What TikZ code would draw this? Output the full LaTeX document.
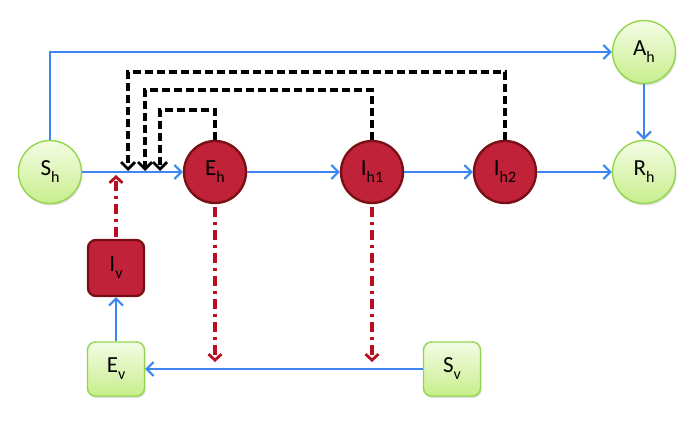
\documentclass[tikz,border=0pt]{standalone}
\usepackage{fontspec}
\setmainfont{Carlito}
\usetikzlibrary{arrows.meta,shadows}
\definecolor{bl}{HTML}{3D85F0}
\definecolor{rf}{HTML}{C0223A}
\definecolor{rd}{HTML}{7A1015}
\definecolor{ra}{HTML}{B81020}
\definecolor{gtop}{HTML}{F3FCE4}
\definecolor{gbot}{HTML}{C8EE8C}
\definecolor{gd}{HTML}{93D64C}
\newcommand\lab[2]{#1\raisebox{-7pt}{\fontsize{16}{16}\selectfont #2}}
\begin{document}
\begin{tikzpicture}[x=1pt,y=-1pt,
  lbl/.style={inner sep=0pt, font=\fontsize{23}{26}\selectfont, text=black},
  hg/.style={lbl, circle, draw=gd, line width=1.4pt, top color=gtop, bottom color=gbot, minimum size=63pt,
    drop shadow={opacity=0.25, shadow xshift=1pt, shadow yshift=-2pt}},
  hr/.style={lbl, circle, draw=rd, line width=2.4pt, fill=rf, minimum size=62pt},
  vg/.style={lbl, rectangle, rounded corners=8pt, draw=gd, line width=1.4pt, top color=gtop, bottom color=gbot,
    minimum width=57pt, minimum height=54pt, drop shadow={opacity=0.25, shadow xshift=1pt, shadow yshift=-2pt}},
  vr/.style={lbl, rectangle, rounded corners=8pt, draw=rd, line width=2.4pt, fill=rf, minimum width=56pt, minimum height=56pt},
  flow/.style={draw=bl, line width=2pt, -{Straight Barb[length=7pt,width=14pt,line width=2pt]}},
  fb/.style={draw=black, line width=3.2pt, dash pattern=on 8pt off 4pt, -{Straight Barb[length=7pt,width=14pt,line width=2.8pt]}},
  inf/.style={draw=ra, line width=3.2pt, dash pattern=on 10pt off 5pt on 3pt off 5pt, -{Straight Barb[length=6pt,width=13pt,line width=2.8pt]}}
]
\useasboundingbox (0,0) rectangle (692,422);

\node[hg] (sh) at (50,172) {\lab{S}{h}};
\node[hr] (eh) at (215,172) {\lab{E}{h}};
\node[hr] (ih1) at (372,172) {\lab{I}{h1}};
\node[hr] (ih2) at (505,172) {\lab{I}{h2}};
\node[hg] (rh) at (644,172) {\lab{R}{h}};
\node[hg] (ah) at (644,52) {\lab{A}{h}};
\node[vr] (iv) at (116,268) {\lab{I}{v}};
\node[vg] (ev) at (116,369) {\lab{E}{v}};
\node[vg] (sv) at (452,369) {\lab{S}{v}};

% blue flows
\draw[flow] (sh) -- (eh);
\draw[flow] (eh) -- (ih1);
\draw[flow] (ih1) -- (ih2);
\draw[flow] (ih2) -- (rh);
\draw[flow] (ah) -- (rh);
\draw[flow] (sh.north) |- (ah.west);
\draw[flow] (ev.north) -- (iv.south);
\draw[flow] (sv.west) -- (ev.east);

% black dashed feedback
\coordinate (f1) at (160,110);
\coordinate (t1) at (160,171);
\coordinate (f2) at (145,90);
\coordinate (t2) at (145,171);
\coordinate (f3) at (128,72);
\coordinate (t3) at (128,171);
\draw[fb] (eh.north) |- (f1) -- (t1);
\draw[fb] (ih1.north) |- (f2) -- (t2);
\draw[fb] (ih2.north) |- (f3) -- (t3);

% red infection
\coordinate (ivt) at (116,175);
\coordinate (ehb) at (215,362);
\coordinate (ihb) at (372,362);
\draw[inf, shorten <=2pt] (iv.north) -- (ivt);
\draw[inf, shorten <=3pt] (eh.south) -- (ehb);
\draw[inf, shorten <=3pt] (ih1.south) -- (ihb);
\end{tikzpicture}
\end{document}
